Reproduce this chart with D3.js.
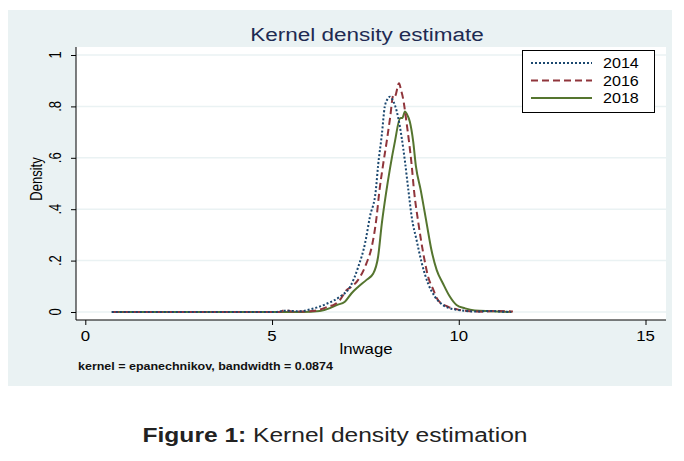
<!DOCTYPE html>
<html>
<head>
<meta charset="utf-8">
<script src="https://cdn.jsdelivr.net/npm/d3@7"></script>
<style>
  html, body { margin: 0; padding: 0; background: #ffffff; }
  svg { display: block; font-family: "Liberation Sans", Arial, sans-serif; }
</style>
</head>
<body>
<svg id="chart" width="684" height="461"></svg>
<script>
// ---- Data ----
const seriesNames = ["2014", "2016", "2018"];

const x2014 = [0.71, 5.08, 5.35, 5.75, 6.02, 6.46, 6.82, 7.09, 7.31, 7.49, 7.62, 7.78, 7.84, 7.94, 8.02, 8.10, 8.16, 8.21, 8.29, 8.38, 8.47, 8.56, 8.65, 8.74, 8.87, 9.01, 9.18, 9.36, 9.58, 9.90, 10.48, 10.84, 11.18, 11.40];
const d2014 = [0, 0, 0.005, 0.003, 0.01, 0.032, 0.06, 0.098, 0.176, 0.267, 0.37, 0.475, 0.57, 0.69, 0.80, 0.83, 0.838, 0.83, 0.805, 0.755, 0.68, 0.585, 0.475, 0.37, 0.28, 0.19, 0.11, 0.06, 0.027, 0.01, 0.002, 0.004, 0.001, 0];

const x2016 = [0.71, 5.21, 5.35, 5.53, 5.83, 6.15, 6.55, 6.64, 6.82, 7.00, 7.13, 7.36, 7.53, 7.67, 7.80, 7.87, 7.96, 8.07, 8.16, 8.25, 8.29, 8.40, 8.46, 8.51, 8.59, 8.67, 8.74, 8.80, 8.92, 9.05, 9.18, 9.32, 9.44, 9.72, 10.03, 10.30, 10.65, 10.97, 11.45];
const d2016 = [0, 0, 0.008, 0.002, 0.002, 0.005, 0.023, 0.027, 0.047, 0.086, 0.098, 0.137, 0.19, 0.254, 0.37, 0.465, 0.56, 0.663, 0.754, 0.845, 0.84, 0.89, 0.86, 0.83, 0.75, 0.66, 0.57, 0.475, 0.345, 0.228, 0.137, 0.086, 0.047, 0.02, 0.008, 0.003, 0.001, 0.004, 0.002];

const x2018 = [0.71, 5.80, 6.28, 6.55, 6.73, 6.95, 7.13, 7.31, 7.53, 7.71, 7.84, 7.94, 8.05, 8.16, 8.29, 8.43, 8.49, 8.56, 8.61, 8.69, 8.78, 8.85, 8.98, 9.14, 9.27, 9.41, 9.58, 9.76, 9.94, 10.17, 10.43, 10.84, 11.42];
const d2018 = [0, 0, 0.004, 0.015, 0.027, 0.04, 0.073, 0.098, 0.125, 0.15, 0.215, 0.345, 0.46, 0.56, 0.663, 0.754, 0.755, 0.78, 0.77, 0.74, 0.663, 0.57, 0.475, 0.345, 0.24, 0.163, 0.11, 0.06, 0.027, 0.014, 0.006, 0.003, 0];

const xTicks = [0, 5, 10, 15];
const xTickLabels = ["0", "5", "10", "15"];
const yTicks = [0, 0.2, 0.4, 0.6, 0.8, 1];
const yTickLabels = ["0", ".2", ".4", ".6", ".8", "1"];

const titleText = "Kernel density estimate";
const xLabel = "lnwage";
const yLabel = "Density";
const noteText = "kernel = epanechnikov, bandwidth = 0.0874";

// ---- Layout ----
const svg = d3.select("#chart");
const SX = 1.2; // horizontal stretch of the original export
const colors = ["#1a476f", "#90353b", "#55752f"];
const dashes = ["2,2", "7,4", null];
const widths = [2, 2, 2];

const plot = { left: 76, right: 666, top: 47, bottom: 320 };
const x = d3.scaleLinear().domain([0, 15]).range([85.3, 645.5]);
const y = d3.scaleLinear().domain([0, 1]).range([312, 55]);

function stext(g, px, py, str, size, opts = {}) {
  const t = g.append("text")
    .attr("transform", `translate(${px},${py}) ${opts.rotate ? "rotate(" + opts.rotate + ")" : ""} scale(${opts.sx || 1},${opts.sy || 1})`)
    .attr("font-size", size)
    .attr("text-anchor", opts.anchor || "middle")
    .attr("fill", opts.fill || "#000")
    .attr("font-weight", opts.weight || "normal")
    .text(str);
  return t;
}

// outer panel
svg.append("rect").attr("x", 8).attr("y", 10).attr("width", 664).attr("height", 376).attr("fill", "#eaf2f3");
// plot region
svg.append("rect").attr("x", plot.left).attr("y", plot.top)
  .attr("width", plot.right - plot.left).attr("height", plot.bottom - plot.top).attr("fill", "#ffffff");

// gridlines
svg.append("g").selectAll("line").data(yTicks).join("line")
  .attr("x1", plot.left).attr("x2", plot.right)
  .attr("y1", d => y(d)).attr("y2", d => y(d))
  .attr("stroke", "#eaf2f3").attr("stroke-width", 1.5);

// axes
const yAxis = d3.axisLeft(y).tickValues(yTicks).tickSize(5).tickFormat("");
const gy = svg.append("g").attr("transform", `translate(${plot.left},0)`).call(yAxis);
gy.select(".domain").remove();
gy.selectAll(".tick line").attr("stroke", "#000");
svg.append("line").attr("x1", plot.left).attr("x2", plot.left).attr("y1", plot.top).attr("y2", plot.bottom).attr("stroke", "#000");

const xAxis = d3.axisBottom(x).tickValues(xTicks).tickSize(5).tickFormat("");
const gx = svg.append("g").attr("transform", `translate(0,${plot.bottom})`).call(xAxis);
gx.select(".domain").remove();
gx.selectAll(".tick line").attr("stroke", "#000");
svg.append("line").attr("x1", plot.left).attr("x2", plot.right).attr("y1", plot.bottom).attr("y2", plot.bottom).attr("stroke", "#000");

// tick labels
const labels = svg.append("g");
yTicks.forEach((v, i) => stext(labels, 61, y(v), yTickLabels[i], 13, { rotate: -90, sy: SX }));
xTicks.forEach((v, i) => stext(labels, x(v), 341, xTickLabels[i], 14, { sx: SX }));

// axis titles
stext(labels, 42, 179, yLabel, 13, { rotate: -90, sy: SX });
stext(labels, 366, 354, xLabel, 14, { sx: SX });
stext(labels, 367, 41, titleText, 18, { sx: 1.25, fill: "#1e2a52" });
stext(labels, 78, 370, noteText, 10, { sx: 1.25, anchor: "start", fill: "#111", weight: "bold" });

// lines
const series = [
  { name: seriesNames[0], xs: x2014, ds: d2014 },
  { name: seriesNames[1], xs: x2016, ds: d2016 },
  { name: seriesNames[2], xs: x2018, ds: d2018 }
];
const line = d3.line().x(d => x(d[0])).y(d => y(d[1])).curve(d3.curveMonotoneX);
const drawOrder = [2, 1, 0];
drawOrder.forEach(i => {
  const s = series[i];
  svg.append("path")
    .datum(s.xs.map((xv, j) => [xv, s.ds[j]]))
    .attr("d", line)
    .attr("fill", "none")
    .attr("stroke", colors[i])
    .attr("stroke-width", widths[i])
    .attr("stroke-dasharray", dashes[i]);
});

// legend
const lg = svg.append("g");
lg.append("rect").attr("x", 522.5).attr("y", 50.5).attr("width", 132).attr("height", 62)
  .attr("fill", "#fff").attr("stroke", "#000").attr("stroke-width", 1);
series.forEach((s, i) => {
  const ly = 63 + i * 17.5;
  lg.append("line").attr("x1", 531).attr("x2", 592).attr("y1", ly).attr("y2", ly)
    .attr("stroke", colors[i]).attr("stroke-width", widths[i]).attr("stroke-dasharray", dashes[i]);
  stext(lg, 603, ly + 5, s.name, 14, { sx: 1.15, anchor: "start" });
});

// caption
const cap = svg.append("text")
  .attr("transform", "translate(335,442) scale(1.17,1)")
  .attr("text-anchor", "middle")
  .attr("font-size", 21).attr("fill", "#222");
cap.append("tspan").attr("font-weight", "bold").text("Figure 1:");
cap.append("tspan").text(" Kernel density estimation");
</script>
</body>
</html>
